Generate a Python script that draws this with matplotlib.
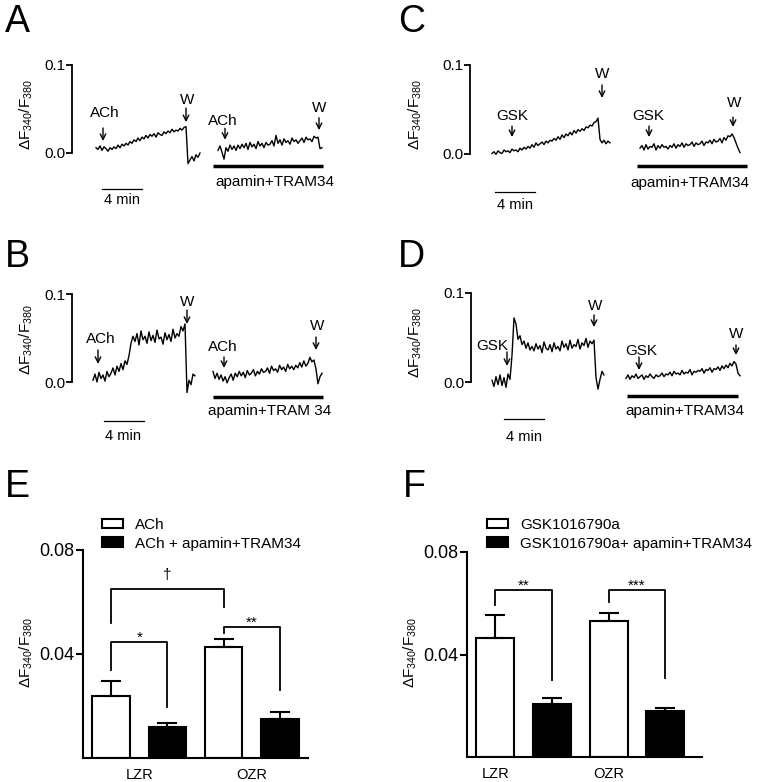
import numpy as np
import matplotlib
matplotlib.use('Agg')
import matplotlib.pyplot as plt
from matplotlib.patches import Patch

plt.rcParams['font.family'] = ['Liberation Sans', 'DejaVu Sans']
plt.rcParams['mathtext.fontset'] = 'custom'
plt.rcParams['mathtext.rm'] = 'Liberation Sans'
plt.rcParams['mathtext.it'] = 'Liberation Sans:italic'
plt.rcParams['mathtext.bf'] = 'Liberation Sans:bold'

# ---------------- data ----------------
# Fura-2 traces: dF340/F380 in thousandths, evenly sampled between span times (min)
trace_A1 = [6, 4, 8, 3, 7, 5, 2, 6,
            4, 7, 5, 9, 6, 10, 8, 11, 9, 13,
            11, 15, 13, 17, 14, 18, 16, 20, 17, 21, 19, 22, 18, 23, 21,
            20, 24, 22, 25, 23, 27, 24, 26, 25, 28, 26, 29, 30,
            -12, -8, -4, -9, -2, -5, 0]
span_A1 = (2.4, 12.8)
trace_A2 = [3, 8, 1, -7, 6, 2, 9, 4, 8, 3, 9,
            5, 10, 6, 11, 4, 12, 7, 10, 5, 13, 8, 11, 6, 12, 9,
            10, 14, 8, 20, 11, 15, 9, 16, 12, 14, 10, 17, 13, 15, 11,
            14, 17, 12, 18, 15, 16, 13, 19, 17, 18,
            5, 6]
span_A2 = (14.6, 25.0)

trace_B1 = [2, 9, 0, 11, 4, 8, 1, 12, 6,
            10, 16, 8, 18, 12, 21, 14, 24, 20,
            30, 44, 52,
            46, 55, 42, 58, 48, 52, 44, 57, 47, 53, 45, 59, 49, 51, 43, 56,
            48, 54, 46, 60, 50, 55, 52, 63, 58, 66,
            -12, 2, -3, 9, 7]
span_B1 = (2.1, 12.3)
trace_B2 = [12, 4, 10, 3, 8, 1, 6, -1, 5, 9, 2,
            10, 6, 12, 7, 11, 5, 13, 8, 10, 14, 7, 12, 9, 15, 11,
            12, 16, 10, 18, 13, 15, 11, 19, 14, 17, 12, 20, 15, 18, 14,
            19, 16, 22, 17, 24, 18, 21, 28, 23, 25,
            15, -2, 6, 10]
span_B2 = (14.1, 25.0)

trace_C1 = [0, 2, -1, 3, 1, 0, 4, 2, 3, 1, 5, 3, 4, 2, 6,
            4, 7, 5, 8, 6, 10, 7, 12, 9, 11, 13, 10, 14, 12, 15,
            14, 17, 15, 19, 16, 21, 18, 22, 20, 24, 21, 26, 23, 27, 25,
            28, 26, 30, 29, 32, 31, 35, 36, 40,
            16, 12, 15, 11, 14, 12]
span_C1 = (2.2, 14.0)
trace_C2 = [6, 9, 4, 10, 5, 8, 7, 11, 4, 9, 6, 10, 7, 8, 5,
            9, 7, 11, 6, 10, 8, 12, 7, 11, 9, 10, 13, 8, 12, 10,
            11, 14, 9, 13, 12, 15, 11, 16, 13, 14, 17, 12, 18, 15, 20,
            19, 22, 18, 12, 6, 1]
span_C2 = (17.0, 27.0)

trace_D1 = [2, -5, 6, -3, 8, -4, 5, -6, 9, 3,
            30, 72, 65,
            48, 52, 42, 46, 38, 44, 36,
            40, 35, 43, 37, 41, 33, 45, 38, 36, 42, 34, 44, 37, 40, 35, 46,
            39, 43, 36, 47, 38, 42, 40, 48, 37, 44, 41, 49, 39, 46, 43, 47,
            5, -8, 3, 12, 8]
span_D1 = (2.1, 13.3)
trace_D2 = [4, 8, 3, 7, 5, 9, 4, 6, 8, 3, 7, 5, 9, 6, 4, 8, 6,
            7, 10, 6, 9, 8, 11, 7, 12, 9, 10, 8, 13, 9, 11, 10, 14, 8, 12, 11, 13,
            12, 15, 10, 14, 13, 16, 11, 15, 14, 17, 13, 18, 15, 19, 16,
            21, 18, 23, 20, 10, 7]
span_D2 = (15.5, 26.9)

groups = ['LZR', 'OZR']
E_labels = ['ACh', 'ACh + apamin+TRAM34']
E_ctrl = [0.0238, 0.0427]
E_ctrl_sem = [0.0058, 0.0031]
E_block = [0.0119, 0.0150]
E_block_sem = [0.0016, 0.0027]

F_labels = ['GSK1016790a', 'GSK1016790a+ apamin+TRAM34']
F_ctrl = [0.0464, 0.0531]
F_ctrl_sem = [0.0090, 0.0031]
F_block = [0.0207, 0.0180]
F_block_sem = [0.0023, 0.0011]

YLAB = 'ΔF$_{340}$/F$_{380}$'

# ---------------- figure ----------------
W, H = 757, 782
fig = plt.figure(figsize=(W / 100, H / 100), dpi=100)


def trace_axes(x_spine, y_zero, y_tenth, right, top, bottom):
    ax = fig.add_axes([x_spine / W, 1 - bottom / H, (right - x_spine) / W, (bottom - top) / H])
    pxu = (y_zero - y_tenth) / 0.1
    ax.set_xlim(0, (right - x_spine) / 10.0)
    ax.set_ylim((y_zero - bottom) / pxu, (y_zero - top) / pxu)
    for s in ['top', 'right', 'bottom']:
        ax.spines[s].set_visible(False)
    ax.spines['left'].set_bounds(0, 0.1)
    ax.spines['left'].set_linewidth(1.3)
    ax.set_xticks([])
    ax.set_yticks([0, 0.1])
    ax.set_yticklabels(['0.0', '0.1'])
    ax.tick_params(axis='y', length=4, width=1.3, labelsize=11, pad=1)
    ax.patch.set_visible(False)
    return ax


def plot_trace(ax, vals, span):
    v = np.asarray(vals, dtype=float) / 1000.0
    t = np.linspace(span[0], span[1], len(v))
    ax.plot(t, v, color='k', lw=1.0)


def mark(ax, label, tt, vt, ta, v_tail, v_tip):
    ax.text(tt, vt, label, ha='center', va='center', fontsize=11)
    ax.annotate('', xy=(ta, v_tip), xytext=(ta, v_tail),
                arrowprops=dict(arrowstyle='->', lw=1.0, color='k',
                                shrinkA=0, shrinkB=0, mutation_scale=10))


def drug_bar(ax, t0, t1, v, label, tl, vl):
    ax.plot([t0, t1], [v, v], color='k', lw=2.5, solid_capstyle='butt')
    ax.text(tl, vl, label, ha='center', va='center', fontsize=11)


def scale_bar(ax, t0, v, tl, vl):
    ax.plot([t0, t0 + 4], [v, v], color='k', lw=0.9)
    ax.text(tl, vl, '4 min', ha='center', va='center', fontsize=10.5)


# Panel A
axA = trace_axes(72, 153, 65, 345, 55, 210)
plot_trace(axA, trace_A1, span_A1)
plot_trace(axA, trace_A2, span_A2)
mark(axA, 'ACh', 3.3, 0.0455, 3.1, 0.0284, 0.0136)
mark(axA, 'W', 11.5, 0.060, 11.4, 0.051, 0.035)
mark(axA, 'ACh', 15.1, 0.036, 15.3, 0.028, 0.015)
mark(axA, 'W', 24.7, 0.051, 24.7, 0.040, 0.026)
drug_bar(axA, 14.1, 25.1, -0.0148, 'apamin+TRAM34', 20.3, -0.033)
scale_bar(axA, 3.0, -0.041, 5.0, -0.053)

# Panel C
axC = trace_axes(470, 153.5, 65, 757, 55, 215)
plot_trace(axC, trace_C1, span_C1)
plot_trace(axC, trace_C2, span_C2)
mark(axC, 'GSK', 4.2, 0.042, 4.2, 0.031, 0.0186)
mark(axC, 'W', 13.2, 0.0898, 13.2, 0.0774, 0.0627)
mark(axC, 'GSK', 17.8, 0.042, 17.9, 0.031, 0.0186)
mark(axC, 'W', 26.4, 0.057, 26.3, 0.041, 0.030)
drug_bar(axC, 16.7, 27.7, -0.0141, 'apamin+TRAM34', 22.0, -0.0333)
scale_bar(axC, 2.5, -0.0435, 4.5, -0.058)

# Panel B
axB = trace_axes(72, 382, 294, 345, 285, 450)
plot_trace(axB, trace_B1, span_B1)
plot_trace(axB, trace_B2, span_B2)
mark(axB, 'ACh', 2.9, 0.0489, 2.6, 0.0364, 0.0205)
mark(axB, 'W', 11.5, 0.0909, 11.5, 0.0818, 0.0659)
mark(axB, 'ACh', 15.1, 0.0398, 15.2, 0.0284, 0.0159)
mark(axB, 'W', 24.5, 0.0636, 24.4, 0.0511, 0.0364)
drug_bar(axB, 14.1, 25.1, -0.017, 'apamin+TRAM 34', 19.8, -0.033)
scale_bar(axB, 3.2, -0.0443, 5.1, -0.0614)

# Panel D
axD = trace_axes(471, 382, 293, 757, 285, 450)
plot_trace(axD, trace_D1, span_D1)
plot_trace(axD, trace_D2, span_D2)
mark(axD, 'GSK', 2.1, 0.0404, 3.6, 0.0337, 0.018)
mark(axD, 'W', 12.4, 0.0854, 12.3, 0.0753, 0.0618)
mark(axD, 'GSK', 17.0, 0.0348, 16.8, 0.0281, 0.0135)
mark(axD, 'W', 26.5, 0.0539, 26.5, 0.0416, 0.0303)
drug_bar(axD, 15.6, 26.7, -0.0157, 'apamin+TRAM34', 21.4, -0.0326)
scale_bar(axD, 3.3, -0.0416, 5.3, -0.0618)


# Bar charts
def bar_axes(x_spine, y_base, y_top, right, xlim):
    ax = fig.add_axes([x_spine / W, 1 - y_base / H, (right - x_spine) / W, (y_base - y_top) / H])
    ax.set_xlim(*xlim)
    ax.set_ylim(0, 0.08)
    for s in ['top', 'right']:
        ax.spines[s].set_visible(False)
    for s in ['left', 'bottom']:
        ax.spines[s].set_linewidth(1.5)
    ax.set_yticks([0.04, 0.08])
    ax.set_yticklabels(['0.04', '0.08'])
    ax.tick_params(axis='y', length=5, width=1.5, labelsize=13, pad=1)
    ax.tick_params(axis='x', length=0, labelsize=10.5, pad=7)
    ax.patch.set_visible(False)
    return ax


def draw_bars(ax, ctrl, ctrl_sem, block, block_sem):
    x = np.arange(len(groups))
    w = 0.335
    ax.bar(x - 0.25, ctrl, w, color='white', edgecolor='k', lw=1.5, zorder=2)
    ax.bar(x + 0.25, block, w, color='k', edgecolor='k', lw=1.5, zorder=2)
    ax.errorbar(x - 0.25, ctrl, yerr=[np.zeros(len(x)), ctrl_sem], fmt='none',
                ecolor='k', elinewidth=1.5, capsize=7, capthick=1.5, zorder=3)
    ax.errorbar(x + 0.25, block, yerr=[np.zeros(len(x)), block_sem], fmt='none',
                ecolor='k', elinewidth=1.5, capsize=7, capthick=1.5, zorder=3)


def bracket(ax, x1, y1, x2, y2, ytop, label, dy):
    ax.plot([x1, x1, x2, x2], [y1, ytop, ytop, y2], color='k', lw=1.3, clip_on=False)
    ax.text((x1 + x2) / 2, ytop + dy, label, ha='center', va='baseline', fontsize=11)


axE = bar_axes(83, 758, 550, 308, (-0.5, 1.5))
draw_bars(axE, E_ctrl, E_ctrl_sem, E_block, E_block_sem)
axE.set_xticks([0, 1])
axE.set_xticklabels(groups)
bracket(axE, -0.25, 0.0519, 0.75, 0.058, 0.065, '†', 0.0038)
bracket(axE, -0.25, 0.0338, 0.25, 0.0196, 0.0446, '*', 0.0)
bracket(axE, 0.75, 0.048, 1.25, 0.0262, 0.0504, '**', 0.0)

axF = bar_axes(467, 757, 552, 702, (-0.5, 1.574))
draw_bars(axF, F_ctrl, F_ctrl_sem, F_block, F_block_sem)
axF.set_xticks([-0.25, 0.75])
axF.set_xticklabels(groups)
bracket(axF, -0.25, 0.0593, 0.25, 0.0301, 0.0652, '**', 0.0)
bracket(axF, 0.75, 0.0605, 1.25, 0.0308, 0.0652, '***', 0.0)


def legend(labels, x_px, y_px):
    handles = [Patch(facecolor='white', edgecolor='k', lw=1.5),
               Patch(facecolor='k', edgecolor='k', lw=1.5)]
    fig.legend(handles, labels, loc='upper left', bbox_to_anchor=(x_px / W, 1 - y_px / H),
               frameon=False, fontsize=11, handlelength=1.4, handleheight=0.6,
               handletextpad=0.75, labelspacing=0.3, borderpad=0, borderaxespad=0)


legend(E_labels, 102, 518)
legend(F_labels, 487, 518)

# y labels
for (x, y) in [(26, 115), (415, 115), (26, 340), (415, 343), (26, 653), (410, 653)]:
    fig.text(x / W, 1 - y / H, YLAB, rotation=90, ha='center', va='center', fontsize=11)

# panel letters
for (lab, x, y) in [('A', 5, 32), ('C', 398, 32), ('B', 5, 267), ('D', 398, 267),
                    ('E', 5, 497), ('F', 403, 497)]:
    fig.text(x / W, 1 - y / H, lab, ha='left', va='baseline', fontsize=27)

fig.savefig('out.png', dpi=100)
